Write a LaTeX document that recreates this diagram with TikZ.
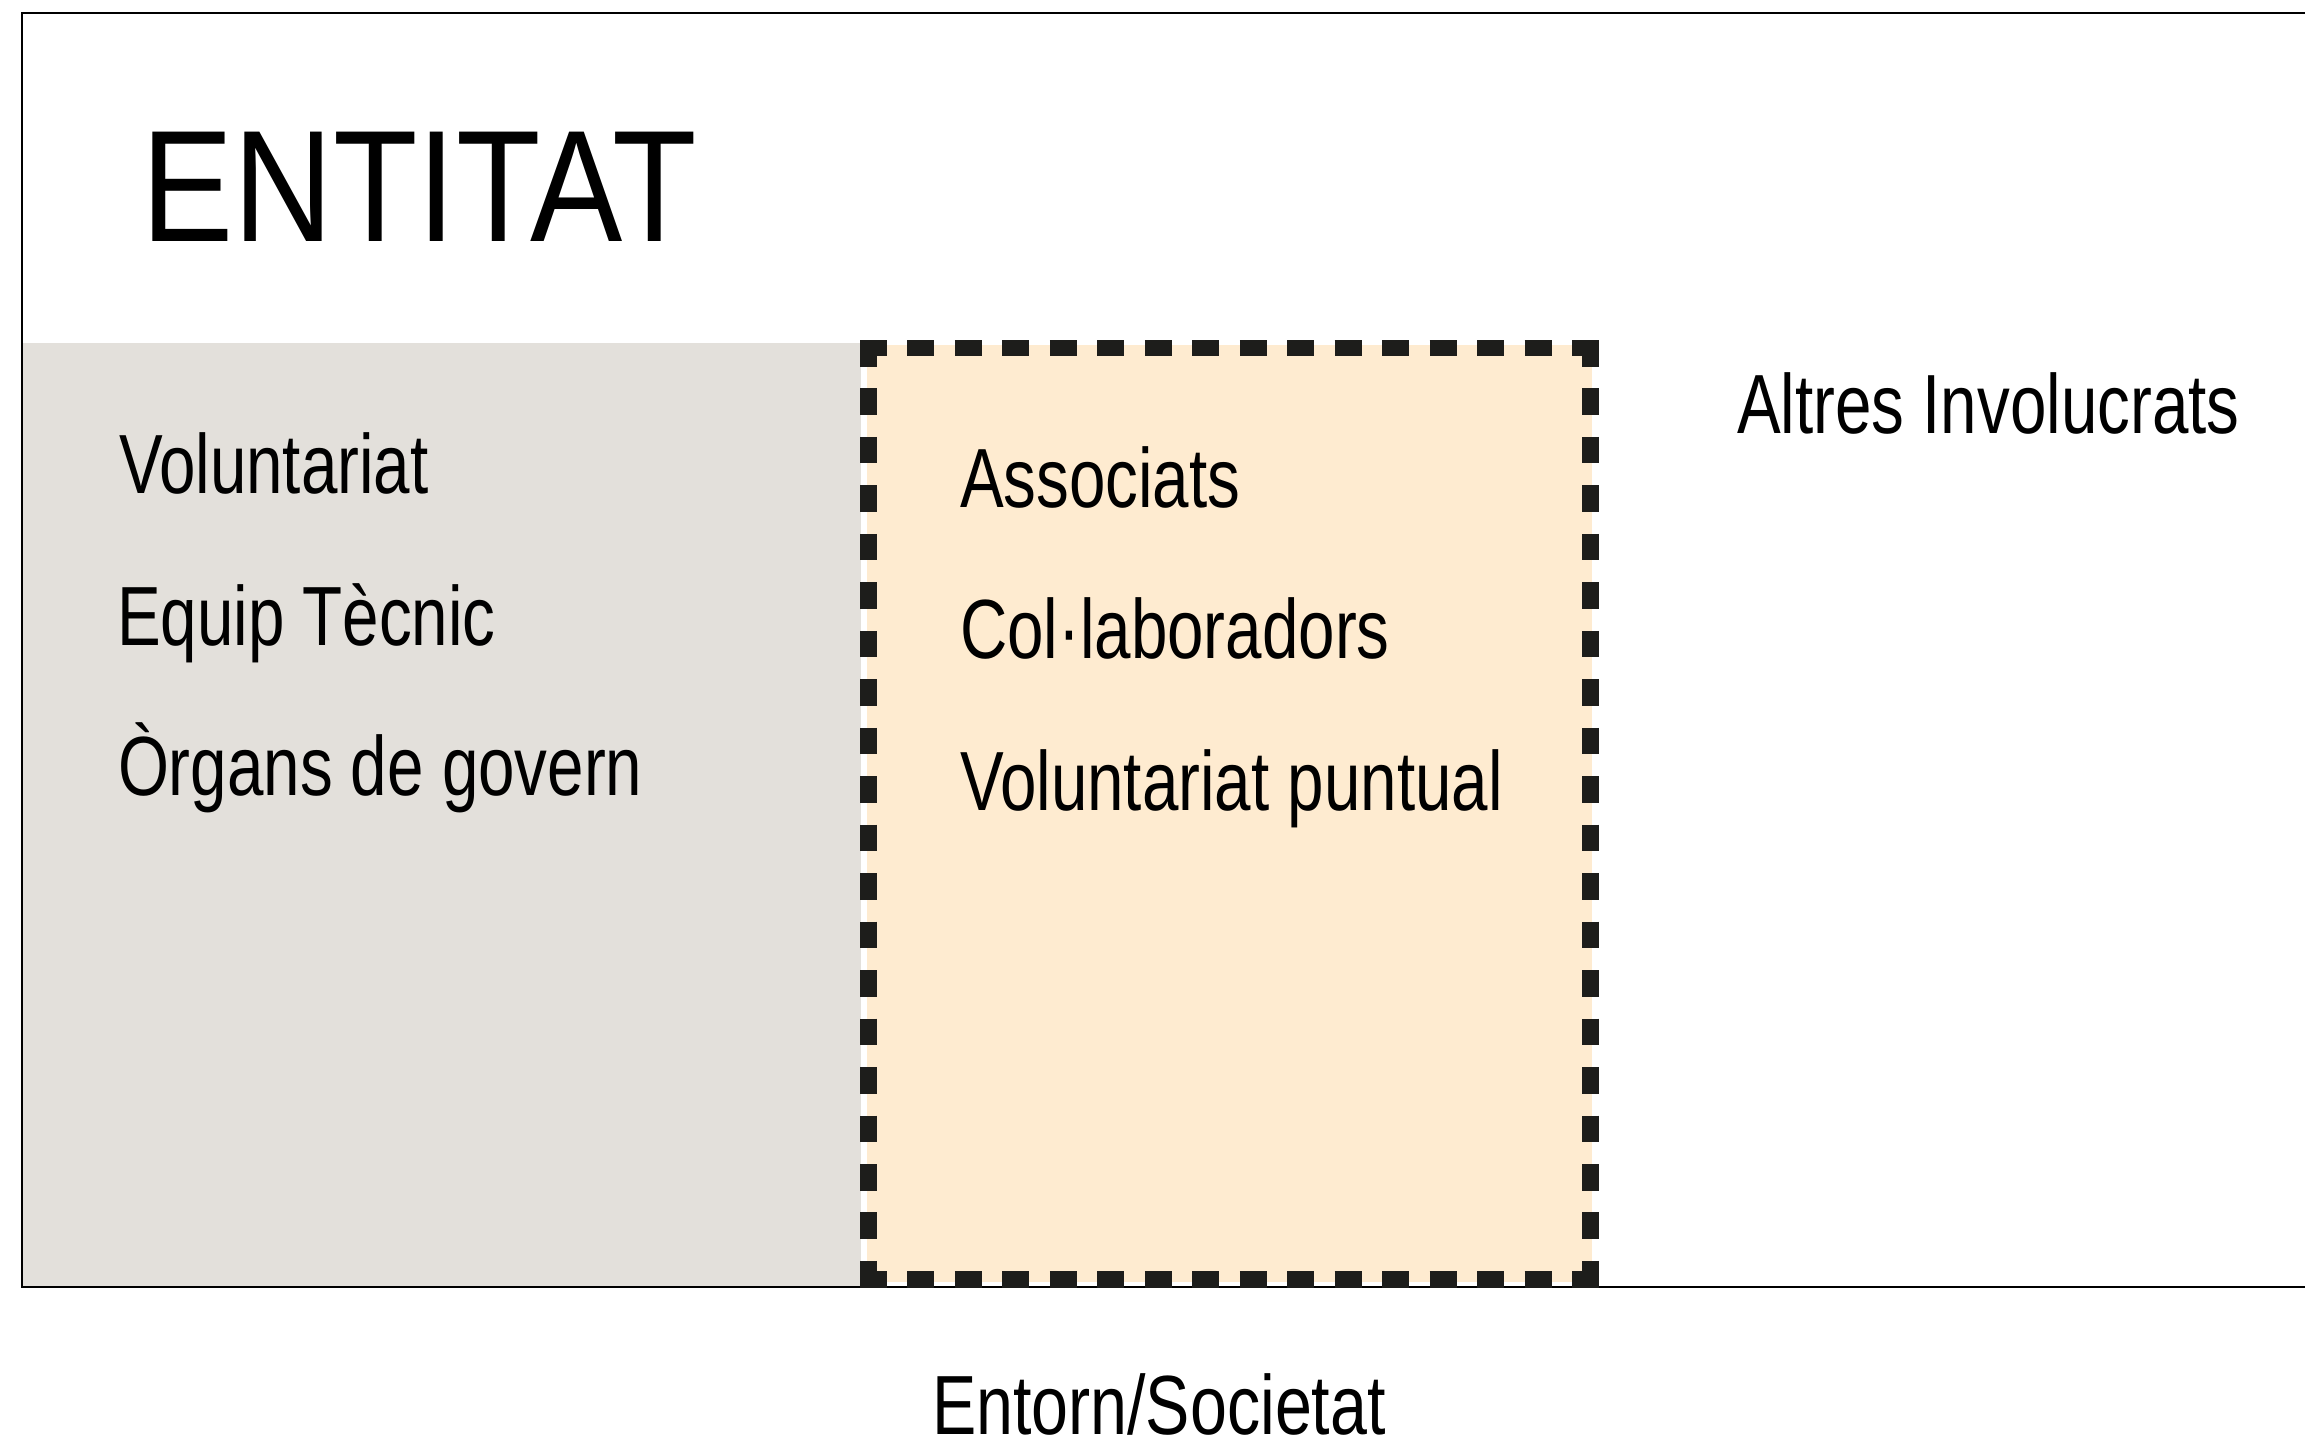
\documentclass[tikz,border=0pt]{standalone}
\usepackage{fontspec}
\setmainfont{Liberation Sans}
\usepackage{graphicx}
\definecolor{greyfill}{HTML}{E3E0DB}
\definecolor{peachfill}{HTML}{FEEBD0}
\definecolor{dashink}{HTML}{1D1D1B}
\begin{document}
\begin{tikzpicture}[x=0.5pt,y=-0.5pt,
  lbl/.style={anchor=base west, inner sep=0pt, outer sep=0pt, font=\fontsize{42}{50}\selectfont},
  title/.style={anchor=base west, inner sep=0pt, outer sep=0pt, font=\fontsize{79.5}{90}\selectfont},
  frameline/.style={line width=1.3pt, black},
  hdash/.style={line width=8.25pt, dashink, dash pattern=on 13.5pt off 10.235pt},
  vdash/.style={line width=8.25pt, dashink, dash pattern=on 13.25pt off 10.985pt}]
\useasboundingbox (0,0) rectangle (2305,1441);
\fill[white] (0,0) rectangle (2305,1441);
% regions
\fill[greyfill] (22,343) rectangle (861,1287);
\fill[peachfill] (867,345) rectangle (1592,1282);
% frame
\draw[frameline] (2305,13) -- (22,13) -- (22,1287) -- (2305,1287);
% dashed box
\draw[hdash] (860,348) -- (1599,348);
\draw[hdash] (860,1279.5) -- (1599,1279.5);
\draw[vdash] (868.5,340) -- (868.5,1287.5);
\draw[vdash] (1590.5,340) -- (1590.5,1287.5);
% texts
\node[title] (entitat) at (141,241) {\scalebox{0.87}[1]{ENTITAT}};
\node[lbl] (vol) at (119,493) {\scalebox{0.78}[1]{Voluntariat}};
\node[lbl] (equip) at (117,645) {\scalebox{0.78}[1]{Equip Tècnic}};
\node[lbl] (organs) at (118,795) {\scalebox{0.78}[1]{Òrgans de govern}};
\node[lbl] (assoc) at (960,507) {\scalebox{0.78}[1]{Associats}};
\node[lbl] (colab) at (960,658) {\scalebox{0.78}[1]{Col·laboradors}};
\node[lbl] (volp) at (960,810) {\scalebox{0.78}[1]{Voluntariat puntual}};
\node[lbl] (altres) at (1737,433) {\scalebox{0.78}[1]{Altres Involucrats}};
\node[lbl] (entorn) at (932,1434) {\scalebox{0.79}[1]{Entorn/Societat}};
\end{tikzpicture}
\end{document}
